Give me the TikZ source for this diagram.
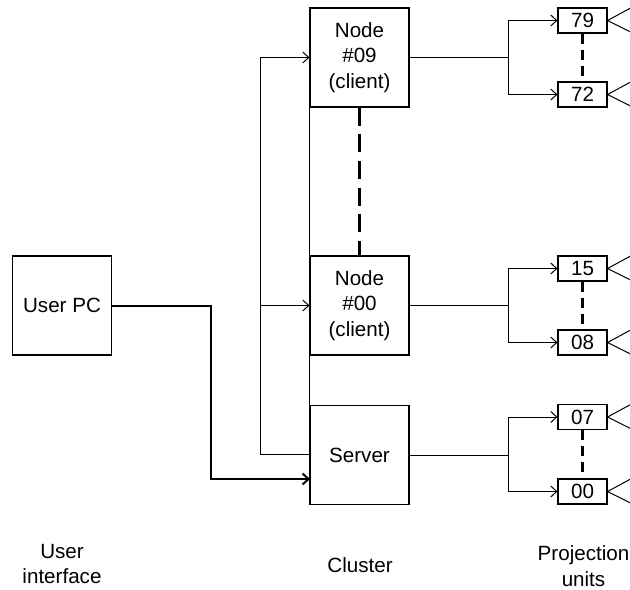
\documentclass[tikz,border=0pt]{standalone}
\usepackage{fontspec}
\setmainfont{Liberation Sans}
\usetikzlibrary{arrows.meta}
\begin{document}
\begin{tikzpicture}[x=1bp,y=-1bp,
  every node/.style={font=\fontsize{20.6bp}{25.5bp}\selectfont},
  box/.style={draw, line width=1.1bp, minimum width=99bp, minimum height=99bp, inner sep=0pt, align=center},
  unitbox/.style={draw, line width=1.1bp, minimum width=49bp, minimum height=25bp, inner sep=0pt},
  conn/.style={line width=1bp},
  arr/.style={conn, -{Straight Barb[length=6bp,width=11bp]}},
  bigdash/.style={line width=3.5bp, dash pattern=on 18bp off 8.7bp},
  smalldash/.style={line width=2.5bp, dash pattern=on 10bp off 6bp},
  label/.style={align=center}]
\useasboundingbox (0,0) rectangle (630,590);
% cluster nodes
\node[box] (n09) at (359.5,57.5) {Node\\\#09\\(client)};
\node[box] (n00) at (359.5,305.5) {Node\\\#00\\(client)};
\node[box] (srv) at (359.5,455) {Server};
\node[box] (pc) at (62,305.5) {User PC};
% projection units
\node[unitbox] (u79) at (582.5,20.5) {79};
\node[unitbox] (u72) at (582.5,94.5) {72};
\node[unitbox] (u15) at (582.5,268.5) {15};
\node[unitbox] (u08) at (582.5,342.5) {08};
\node[unitbox] (u07) at (582.5,417) {07};
\node[unitbox] (u00) at (582.5,491.5) {00};
% labels
\node[label] (lui) at (62,564) {User\\interface};
\node[label] (lcl) at (360,565) {Cluster};
\node[label] (lpu) at (583.5,566) {Projection\\units};
% left bus
\coordinate (bt) at (260,57.5);
\coordinate (bb) at (260,454);
\draw[conn] (bt) -- (bb) -- (bb -| srv.west);
\draw[arr] (bt) -- (n09.west);
\draw[arr] (bt |- n00.west) -- (n00.west);
\draw[conn] (n09.south west) -- (srv.north west);
% user pc link
\coordinate (pcturn) at (211,305.5);
\coordinate (pcin) at (310,479);
\draw[line width=2bp, -{Straight Barb[length=6bp,width=11bp]}] (pc.east) -- (pcturn) |- (pcin);
% dashed between nodes
\draw[bigdash] (n09.south) -- (n00.north);
% branches to projection units
\coordinate (b1) at (508,57.5);
\coordinate (b2) at (508,305.5);
\coordinate (b3) at (508,455);
\draw[conn] (n09.east) -- (b1);
\draw[conn] (n00.east) -- (b2);
\draw[conn] (srv.east) -- (b3);
\draw[arr] (b1) |- (u79.west);
\draw[arr] (b1) |- (u72.west);
\draw[arr] (b2) |- (u15.west);
\draw[arr] (b2) |- (u08.west);
\draw[arr] (b3) |- (u07.west);
\draw[arr] (b3) |- (u00.west);
\draw[smalldash] (u79.south) -- (u72.north);
\draw[smalldash] (u15.south) -- (u08.north);
\draw[smalldash] (u07.south) -- (u00.north);
% projector symbols
\foreach \u in {u79,u72,u15,u08,u07,u00}{
  \draw[conn] (\u.east) -- ++(24,-13) (\u.east) -- ++(24,12);
}
\end{tikzpicture}
\end{document}
